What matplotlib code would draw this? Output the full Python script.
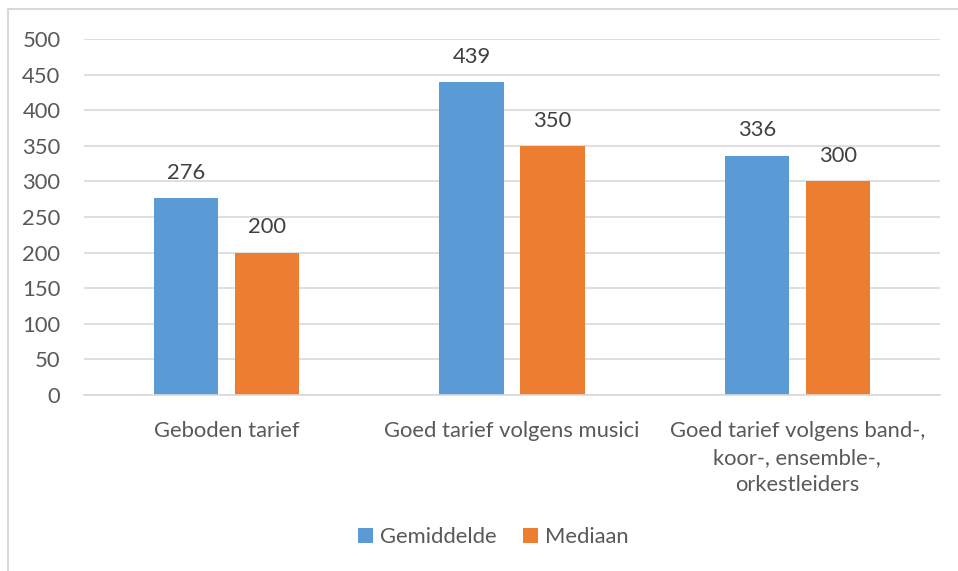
import numpy as np
import matplotlib.pyplot as plt
from matplotlib.lines import Line2D

categories = ["Geboden tarief",
              "Goed tarief volgens musici",
              "Goed tarief volgens band-,\nkoor-, ensemble-,\norkestleiders"]
gemiddelde = [276, 439, 336]
mediaan = [200, 350, 300]
series_names = ["Gemiddelde", "Mediaan"]
yticks = list(range(0, 501, 50))

blue = "#5B9BD5"
orange = "#ED7D31"
txt = "#595959"
fs = 15.8

plt.rcParams['font.family'] = ['Lato', 'DejaVu Sans']

fig = plt.figure(figsize=(9.58, 5.71), dpi=100)
ax = fig.add_axes([84 / 958, 1 - 395 / 571, (940 - 84) / 958, (395 - 39) / 571])

x = np.arange(len(categories))
w = 0.225
off = 0.142
b1 = ax.bar(x - off, gemiddelde, w, color=blue, label=series_names[0])
b2 = ax.bar(x + off, mediaan, w, color=orange, label=series_names[1])

for bars, vals in ((b1, gemiddelde), (b2, mediaan)):
    for rect, v in zip(bars, vals):
        ax.annotate(str(v), (rect.get_x() + rect.get_width() / 2, v),
                    xytext=(0, 11), textcoords='offset points',
                    ha='center', va='bottom', fontsize=fs, color="#404040")

ax.set_xlim(-0.5, len(categories) - 0.5)
ax.set_ylim(0, 500)
ax.set_yticks(yticks)
ax.set_xticks(x)
ax.set_xticklabels(categories, fontsize=fs, color=txt, linespacing=1.45)
ax.tick_params(axis='y', length=0, labelsize=fs, labelcolor=txt, pad=17)
ax.tick_params(axis='x', length=0, pad=18.5)
ax.grid(axis='y', color="#D9D9D9", linewidth=1.2)
ax.set_axisbelow(True)
for s in ['top', 'right', 'left']:
    ax.spines[s].set_visible(False)
ax.spines['bottom'].set_color("#D9D9D9")
ax.spines['bottom'].set_linewidth(1.2)

fig.legend(handles=[b1, b2], loc='center', bbox_to_anchor=(493 / 958, 1 - 537 / 571),
           ncol=2, frameon=False, fontsize=fs, handlelength=0.7, handleheight=0.7,
           handletextpad=0.3, columnspacing=1.2, labelcolor=txt)

# chart frame (left and top edges)
fig.add_artist(Line2D([8 / 958, 8 / 958], [0, 1 - 9 / 571], transform=fig.transFigure,
                      color="#D9D9D9", linewidth=1.5))
fig.add_artist(Line2D([8 / 958, 1], [1 - 9 / 571, 1 - 9 / 571], transform=fig.transFigure,
                      color="#D9D9D9", linewidth=1.5))

fig.savefig("out.png", dpi=100)
